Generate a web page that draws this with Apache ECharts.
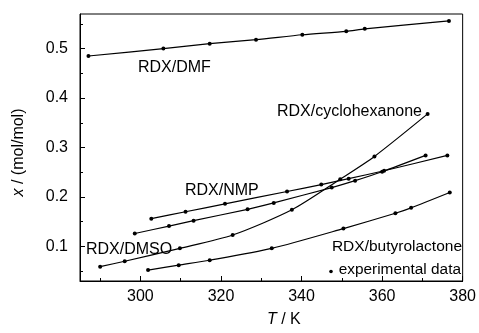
<!DOCTYPE html>
<html>
<head>
<meta charset="utf-8">
<script src="https://cdn.jsdelivr.net/npm/echarts@6/dist/echarts.min.js"></script>
<style>
  html, body { margin: 0; padding: 0; background: #fff; }
  #main { width: 479px; height: 333px; }
</style>
</head>
<body>
<div id="main"></div>
<script>
// T / K and mole fraction
let dmfT = [287.1, 305.7, 317.2, 328.7, 340.2, 351.1, 355.7, 376.6];
let dmfX = [0.485, 0.500, 0.510, 0.518, 0.528, 0.535, 0.540, 0.556];

let cycloT = [290.0, 296.1, 309.8, 322.9, 337.6, 349.6, 358.1, 371.3];
let cycloX = [0.059, 0.070, 0.096, 0.123, 0.174, 0.236, 0.282, 0.368];

let dmsoT = [298.6, 307.1, 313.2, 326.6, 333.1, 347.5, 353.3, 360.0, 370.8];
let dmsoX = [0.126, 0.141, 0.152, 0.175, 0.188, 0.219, 0.233, 0.251, 0.284];

let nmpT = [302.7, 311.2, 321.0, 336.4, 344.9, 351.7, 360.5, 376.2];
let nmpX = [0.156, 0.170, 0.186, 0.211, 0.225, 0.237, 0.253, 0.284];

let butyT = [301.9, 309.5, 317.2, 332.6, 350.4, 363.3, 367.2, 376.8];
let butyX = [0.052, 0.062, 0.072, 0.096, 0.136, 0.167, 0.178, 0.209];

let xTicks = [300, 320, 340, 360, 380];
let xMinor = [290, 310, 330, 350, 370];
let yTicks = [0.1, 0.2, 0.3, 0.4, 0.5];
let yMinor = [0.05, 0.15, 0.25, 0.35, 0.45, 0.55];

let font = "Liberation Sans, Arial, sans-serif";

function pairs(t, x) {
    return t.map(function (v, i) { return [v, x[i]]; });
}

function line(name, t, x) {
    return {
        name: name,
        type: "line",
        data: pairs(t, x),
        smooth: 0.25,
        symbol: "circle",
        symbolSize: 4,
        itemStyle: { color: "#000" },
        lineStyle: { color: "#000", width: 1.2 },
        animation: false,
    };
}

let dom = document.getElementById("main");
let myChart = echarts.init(dom, null, { renderer: "canvas" });

let option = {
    animation: false,
    grid: {
        left: 80, right: 14, top: 14, bottom: 44,
        show: true, borderColor: "#000", borderWidth: 1,
    },
    xAxis: [{
        type: "value", min: 285, max: 380,
        axisLine: { lineStyle: { color: "#000" } },
        axisTick: { inside: true, length: 5, customValues: xTicks, lineStyle: { color: "#000" } },
        axisLabel: { customValues: xTicks, color: "#000", fontSize: 16, fontFamily: font, margin: 8 },
        splitLine: { show: false },
        name: "{i|T} / K",
        nameLocation: "middle",
        nameGap: 31,
        nameTextStyle: {
            color: "#000", fontSize: 16, fontFamily: font, padding: [0, 0, 0, 25],
            rich: { i: { fontStyle: "italic", fontSize: 16, fontFamily: font, color: "#000" } },
        },
    }, {
        type: "value", min: 285, max: 380, position: "bottom",
        axisLine: { show: false },
        axisTick: { inside: true, length: 3, customValues: xMinor, lineStyle: { color: "#000" } },
        axisLabel: { show: false },
        splitLine: { show: false },
    }],
    yAxis: [{
        type: "value", min: 0.03, max: 0.57,
        axisLine: { show: true, lineStyle: { color: "#000" } },
        axisTick: { show: true, inside: true, length: 5, customValues: yTicks, lineStyle: { color: "#000" } },
        axisLabel: {
            customValues: yTicks, color: "#000", fontSize: 16, fontFamily: font, margin: 12,
            formatter: function (v) { return v.toFixed(1); },
        },
        splitLine: { show: false },
        name: "{i|x} / (mol/mol)",
        nameLocation: "middle",
        nameGap: 53,
        nameTextStyle: {
            color: "#000", fontSize: 16, fontFamily: font, padding: [0, 10, 0, 0],
            rich: { i: { fontStyle: "italic", fontSize: 16, fontFamily: font, color: "#000" } },
        },
    }, {
        type: "value", min: 0.03, max: 0.57, position: "left",
        axisLine: { show: false },
        axisTick: { show: true, inside: true, length: 3, customValues: yMinor, lineStyle: { color: "#000" } },
        axisLabel: { show: false },
        splitLine: { show: false },
    }],
    graphic: [
        { type: "text", left: 138, top: 60, style: { text: "RDX/DMF", font: "16px " + font, fill: "#000" } },
        { type: "text", left: 277, top: 104, style: { text: "RDX/cyclohexanone", font: "16px " + font, fill: "#000" } },
        { type: "text", left: 185, top: 183, style: { text: "RDX/NMP", font: "16px " + font, fill: "#000" } },
        { type: "text", left: 86, top: 242, style: { text: "RDX/DMSO", font: "16px " + font, fill: "#000" } },
        { type: "text", right: 17, top: 239, style: { text: "RDX/butyrolactone", font: "15.5px " + font, fill: "#000" } },
        { type: "circle", shape: { cx: 331, cy: 271.5, r: 1.8 }, style: { fill: "#000" } },
        { type: "text", right: 18, top: 262, style: { text: "experimental data", font: "15.4px " + font, fill: "#000" } },
    ],
    series: [
        line("RDX/DMF", dmfT, dmfX),
        line("RDX/cyclohexanone", cycloT, cycloX),
        line("RDX/DMSO", dmsoT, dmsoX),
        line("RDX/NMP", nmpT, nmpX),
        line("RDX/butyrolactone", butyT, butyX),
    ],
};

myChart.setOption(option);
window.addEventListener("resize", myChart.resize);
</script>
</body>
</html>
